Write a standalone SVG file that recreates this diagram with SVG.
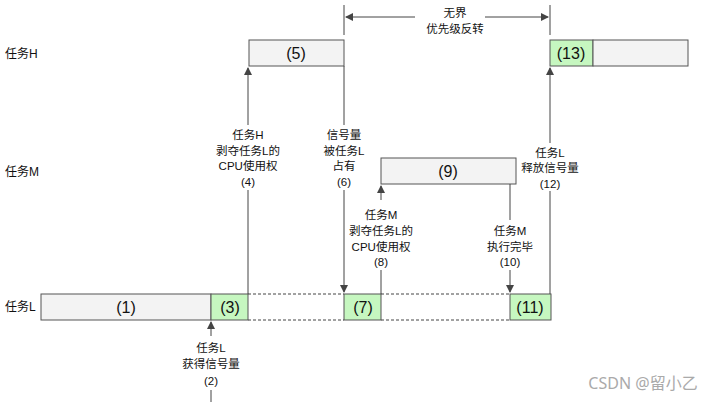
<svg xmlns="http://www.w3.org/2000/svg" width="720" height="402" viewBox="0 0 720 402">
<defs>
<style>
.b{stroke:#555;stroke-width:1;}
.w{fill:#f3f3f3;}
.g{fill:#c6f7c0;}
.t{font-family:"Liberation Sans","Noto Sans CJK SC",sans-serif;font-size:11.5px;fill:#111;text-anchor:middle;}
.n{font-family:"Liberation Sans",sans-serif;font-size:16px;fill:#111;text-anchor:middle;}
.l{font-family:"Liberation Sans","Noto Sans CJK SC",sans-serif;font-size:12px;fill:#111;}
.c{stroke:#444;stroke-width:1;fill:none;}
.d{stroke:#444;stroke-width:1;stroke-dasharray:3,2;fill:none;}
</style>
<marker id="a" markerWidth="8" markerHeight="10" refX="7" refY="4" orient="auto" markerUnits="userSpaceOnUse"><path d="M0,0 L8,4 L0,8 z" fill="#444"/></marker>
</defs>
<rect width="720" height="402" fill="#fff"/>
<text class="l" x="5" y="58">任务H</text>
<text class="l" x="5" y="176">任务M</text>
<text class="l" x="5" y="311">任务L</text>
<g id="n5"><rect class="b w" x="249" y="40" width="95" height="26"/><text class="n" x="296" y="59">(5)</text></g>
<g id="n13"><rect class="b g" x="550" y="40" width="43" height="26"/><rect class="b w" x="593" y="40" width="95" height="26"/><text class="n" x="571" y="59">(13)</text></g>
<g id="n9"><rect class="b w" x="381" y="158" width="135" height="26"/><text class="n" x="448" y="177">(9)</text></g>
<g id="n1"><rect class="b w" x="41" y="294" width="170" height="26"/><text class="n" x="126" y="313">(1)</text></g>
<g id="n3"><rect class="b g" x="211" y="294" width="37" height="26"/><text class="n" x="230" y="313">(3)</text></g>
<g id="n7"><rect class="b g" x="349" y="294" width="37" height="26" transform="translate(-5,0)"/><text class="n" x="363" y="313">(7)</text></g>
<g id="n11"><rect class="b g" x="510" y="294" width="41" height="26"/><text class="n" x="530" y="313">(11)</text></g>
<g id="connectors">
<path class="d" d="M248,294 H344 M248,320 H344 M381,294 H510 M381,320 H510"/>
<path class="c" d="M344,5 V35 M550,5 V35"/>
<path class="c" marker-end="url(#a)" d="M415,17 H346"/>
<path class="c" marker-end="url(#a)" d="M485,17 H548"/>
<path class="c" marker-end="url(#a)" d="M248,125 V68"/>
<path class="c" d="M248,190 V294"/>
<path class="c" d="M344,66 V125"/>
<path class="c" marker-end="url(#a)" d="M344,190 V292"/>
<path class="c" marker-end="url(#a)" d="M381,200 V186"/>
<path class="c" d="M381,270 V294"/>
<path class="c" d="M510,184 V220"/>
<path class="c" marker-end="url(#a)" d="M510,270 V292"/>
<path class="c" marker-end="url(#a)" d="M550,143 V68"/>
<path class="c" d="M550,191 V294"/>
<path class="c" marker-end="url(#a)" d="M211,336 V322"/>
<path class="c" d="M211,390 V402"/>
</g>
<g id="labels">
<text class="t" x="455" y="17">无界</text>
<text class="t" x="455" y="33">优先级反转</text>
<text class="t" x="248" y="139">任务H</text>
<text class="t" x="248" y="155">剥夺任务L的</text>
<text class="t" x="248" y="170">CPU使用权</text>
<text class="t" x="248" y="186">(4)</text>
<text class="t" x="344" y="139">信号量</text>
<text class="t" x="344" y="155">被任务L</text>
<text class="t" x="344" y="170">占有</text>
<text class="t" x="344" y="186">(6)</text>
<text class="t" x="381" y="219">任务M</text>
<text class="t" x="381" y="235">剥夺任务L的</text>
<text class="t" x="381" y="251">CPU使用权</text>
<text class="t" x="381" y="266">(8)</text>
<text class="t" x="510" y="235">任务M</text>
<text class="t" x="510" y="251">执行完毕</text>
<text class="t" x="510" y="266">(10)</text>
<text class="t" x="550" y="157">任务L</text>
<text class="t" x="550" y="172">释放信号量</text>
<text class="t" x="550" y="188">(12)</text>
<text class="t" x="211" y="352">任务L</text>
<text class="t" x="211" y="368">获得信号量</text>
<text class="t" x="211" y="385">(2)</text>
</g>
<text x="643" y="389" font-family="'Noto Sans','Noto Sans CJK SC',sans-serif" font-size="16" fill="#aaa" text-anchor="middle">CSDN @留小乙</text>
</svg>
